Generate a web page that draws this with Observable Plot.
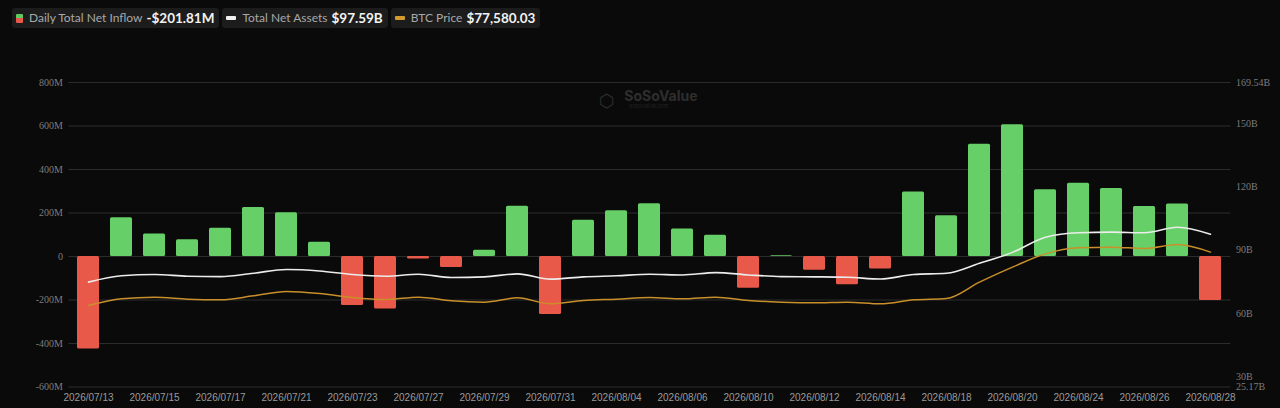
<!DOCTYPE html>
<html>
<head>
<meta charset="utf-8">
<script src="https://cdn.jsdelivr.net/npm/d3@7"></script>
<script src="https://cdn.jsdelivr.net/npm/@observablehq/plot@0.6"></script>
<style>
  html, body { margin: 0; padding: 0; background: #0a0a0a; }
  #wrap { position: relative; width: 1280px; height: 408px; overflow: hidden; background: #0a0a0a; }
  #legend { position: absolute; left: 12px; top: 8px; display: flex; gap: 3px; font-family: Lato, "Open Sans", sans-serif; }
  .item { background: #1c1c1c; border-radius: 3px; height: 20px; line-height: 20px; padding: 0 5px 0 4px; display: flex; align-items: center; white-space: nowrap; }
  .lab { color: #a8a8a8; font-size: 12px; margin-left: 6px; }
  .val { color: #f2f2f2; font-size: 13.5px; font-weight: 700; margin-left: 4px; }
  .ic1 { width: 7px; height: 9px; background: linear-gradient(#5fc85f 50%, #e5584a 50%); border-radius: 1px; }
  .ic2 { width: 10px; height: 4px; background: #f0f0f0; border-radius: 1px; }
  .ic3 { width: 10px; height: 4px; background: #d39a2c; border-radius: 1px; }
  #chart { position: absolute; left: 0; top: 40px; }
</style>
</head>
<body>
<div id="wrap">
  <div id="legend">
    <div class="item"><span class="ic1"></span><span class="lab">Daily Total Net Inflow</span><span class="val">-$201.81M</span></div>
    <div class="item"><span class="ic2"></span><span class="lab">Total Net Assets</span><span class="val">$97.59B</span></div>
    <div class="item"><span class="ic3"></span><span class="lab">BTC Price</span><span class="val">$77,580.03</span></div>
  </div>
  <div id="chart"></div>
</div>
<script>
const dates = ["2026/07/13","2026/07/14","2026/07/15","2026/07/16","2026/07/17","2026/07/20","2026/07/21","2026/07/22","2026/07/23","2026/07/24","2026/07/27","2026/07/28","2026/07/29","2026/07/30","2026/07/31","2026/08/03","2026/08/04","2026/08/05","2026/08/06","2026/08/07","2026/08/10","2026/08/11","2026/08/12","2026/08/13","2026/08/14","2026/08/17","2026/08/18","2026/08/19","2026/08/20","2026/08/21","2026/08/24","2026/08/25","2026/08/26","2026/08/27","2026/08/28"];
// Daily total net inflow, $M
const inflow = [-425,178,104,77,130,225,201,66,-225,-241,-12,-51,29,231,-267,167,210,242,126,98,-146,4,-63,-130,-58,296,187,516,606,307,337,313,230,241,-201.81];
// Total net assets, $B
const tna = [74.9,77.9,78.5,77.7,77.5,79.1,80.9,80.2,78.5,77.7,78.6,77.1,77.4,78.8,76.3,77.4,77.9,78.6,78.3,79.4,78.3,77.5,77.4,77.2,76.4,78.5,79.1,83.8,89.0,96.2,98.3,98.6,98.3,100.9,97.59];
// BTC price, $
const btc = [66900,68240,68570,68170,68030,68830,69700,69300,68500,68100,68570,67830,67570,68430,67230,67900,68170,68500,68230,68570,67900,67570,67430,67570,67230,68030,68300,71570,74570,77230,78430,78570,78300,79100,77580.03];

const leftTicks = [-600,-400,-200,0,200,400,600,800];
const leftLabels = ["-600M","-400M","-200M","0","200M","400M","600M","800M"];
const rightTicksB = [169.54,150,120,90,60,30,25.17];
const rightLabels = ["169.54B","150B","120B","90B","60B","30B","25.17B"];
const xLabels = dates.filter((d, i) => i % 2 === 0);

// secondary axes expressed on the inflow scale (-600M .. 800M)
const tnaDomain = [25.17, 169.54];
const btcDomain = [50600, 111500];
const yDomain = [-600, 800];
const toY = (v, dom) => (v - dom[0]) / (dom[1] - dom[0]) * (yDomain[1] - yDomain[0]) + yDomain[0];

const rows = dates.map((d, i) => ({date: d, inflow: inflow[i], tna: tna[i], btc: btc[i]}));

const chart = Plot.plot({
  width: 1280,
  height: 368,
  marginTop: 42,
  marginBottom: 21.5,
  marginLeft: 68.4,
  marginRight: 49.6,
  style: {background: "transparent", color: "#8a8a8a", fontSize: "10px"},
  x: {type: "band", domain: dates, paddingInner: 0.32, paddingOuter: 0.16, align: 0.5, label: null},
  y: {domain: yDomain, label: null},
  marks: [
    Plot.gridY(leftTicks, {stroke: "#2c2c2c", strokeOpacity: 1, strokeWidth: 1}),
    Plot.text(["SoSoValue"], {frameAnchor: "top", dx: 11, dy: 9, fill: "#2e2e2e", fontSize: 14, fontWeight: "bold", fontFamily: "Inter, sans-serif"}),
    Plot.text(["sosovalue.com"], {frameAnchor: "top", dx: -1, dy: 22, fill: "#232323", fontSize: 5.5, fontFamily: "Inter, sans-serif"}),
    Plot.text(["⬡"], {frameAnchor: "top", dx: -43, dy: 12, fill: "#2e2e2e", fontSize: 18, fontFamily: "DejaVu Sans"}),
    Plot.barY(rows, {x: "date", y: "inflow", fill: d => d.inflow >= 0 ? "#67cf67" : "#e9594a", rx: 1.5}),
    Plot.line(rows, {x: "date", y: d => toY(d.btc, btcDomain), stroke: "#c98f2a", strokeWidth: 1.5, curve: "monotone-x"}),
    Plot.line(rows, {x: "date", y: d => toY(d.tna, tnaDomain), stroke: "#ececec", strokeWidth: 1.6, curve: "monotone-x"}),
    Plot.axisY({anchor: "left", ticks: leftTicks, tickSize: 0, tickPadding: 6, tickFormat: (d, i) => leftLabels[i], fontFamily: "Liberation Serif, serif", fontSize: 10, fill: "#7d7d7d", label: null}),
    Plot.axisY({anchor: "right", ticks: rightTicksB.map(b => toY(b, tnaDomain)), tickSize: 0, tickPadding: 5, tickFormat: (d, i) => rightLabels[i], fontFamily: "Liberation Serif, serif", fontSize: 10, fill: "#7d7d7d", label: null}),
    Plot.axisX({ticks: xLabels, tickSize: 0, tickPadding: 7, fontFamily: "Liberation Sans, Arial, sans-serif", fontSize: 10, fill: "#9a9a9a", label: null})
  ]
});
document.getElementById("chart").appendChild(chart);
</script>
</body>
</html>
